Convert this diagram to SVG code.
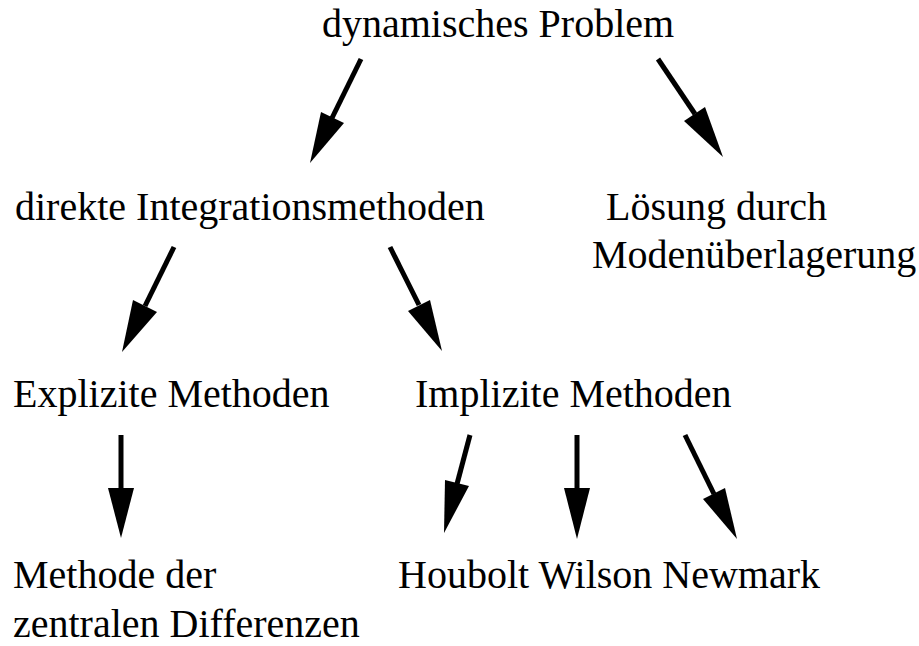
<svg xmlns="http://www.w3.org/2000/svg" width="919" height="646" viewBox="0 0 919 646">
<style>
text { font-family: 'Liberation Serif', 'Times New Roman', Times, 'DejaVu Serif', serif; font-size: 40px; fill: #000; }
.ln { stroke: #000; stroke-width: 5; fill: none; }
.hd { fill: #000; stroke: none; }
</style>
<rect width="919" height="646" fill="#fff"/>
<g id="n-dyn"><text x="322" y="37">dynamisches Problem</text></g>
<g id="n-direkt"><text x="15" y="220">direkte Integrationsmethoden</text></g>
<g id="n-moden"><text x="606" y="220">Lösung durch</text><text x="592" y="268">Modenüberlagerung</text></g>
<g id="n-explizit"><text x="13" y="407">Explizite Methoden</text></g>
<g id="n-implizit"><text x="415" y="407">Implizite Methoden</text></g>
<g id="n-zentral"><text x="13" y="588">Methode der</text><text x="13" y="637">zentralen Differenzen</text></g>
<g id="n-verfahren"><text x="398" y="588">Houbolt Wilson Newmark</text></g>
<g id="connectors">
<line class="ln" x1="361" y1="59" x2="332" y2="118"/><polygon class="hd" points="310,163 321,112 344,123"/>
<line class="ln" x1="658" y1="59" x2="695" y2="114"/><polygon class="hd" points="723,157 684,121 705,107"/>
<line class="ln" x1="174" y1="247" x2="145" y2="306"/><polygon class="hd" points="122,352 133,300 157,312"/>
<line class="ln" x1="390" y1="247" x2="419" y2="305"/><polygon class="hd" points="442,351 408,311 430,300"/>
<line class="ln" x1="121" y1="435" x2="121" y2="489"/><polygon class="hd" points="121,538 108,488 134,488"/>
<line class="ln" x1="470" y1="435" x2="457" y2="484"/><polygon class="hd" points="444,533 445,480 469,486"/>
<line class="ln" x1="577" y1="435" x2="577" y2="489"/><polygon class="hd" points="577,539 564,488 590,488"/>
<line class="ln" x1="685" y1="435" x2="714" y2="494"/><polygon class="hd" points="737,539 703,499 725,488"/>
</g>
</svg>
